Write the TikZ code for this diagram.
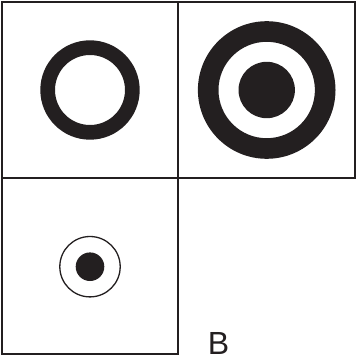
\documentclass[tikz,border=0pt]{standalone}
\usepackage{fontspec}
\setmainfont{Liberation Sans}
\definecolor{ink}{HTML}{231F20}
\begin{document}
\begin{tikzpicture}[x=1pt,y=-1pt,
  cell/.style={draw=ink,line width=2pt},
  blob/.style={fill=ink}]
\useasboundingbox (0,0) rectangle (356,358);
% grid of squares
\draw[cell] (2.3,2.3) rectangle (178,178);
\draw[cell] (178,2.3) rectangle (354.7,178);
\draw[cell] (2.3,178) rectangle (178,354);
% top-left ring
\fill[blob,even odd rule] (90,90) circle[radius=49.7] (90,90) circle[radius=35];
% top-right target
\fill[blob,even odd rule] (266.7,90) circle[radius=68.8] (266.7,90) circle[radius=48.2];
\fill[blob] (266.7,90) circle[radius=28.2];
% bottom-left small target
\draw[ink,line width=1.3pt] (90,266.7) circle[radius=30.2];
\fill[blob] (90,266.7) circle[radius=14.3];
% label
\node[inner sep=0,anchor=base,font=\fontsize{32}{32}\selectfont,text=ink] (lab) at (218.5,354) {B};
\end{tikzpicture}
\end{document}
